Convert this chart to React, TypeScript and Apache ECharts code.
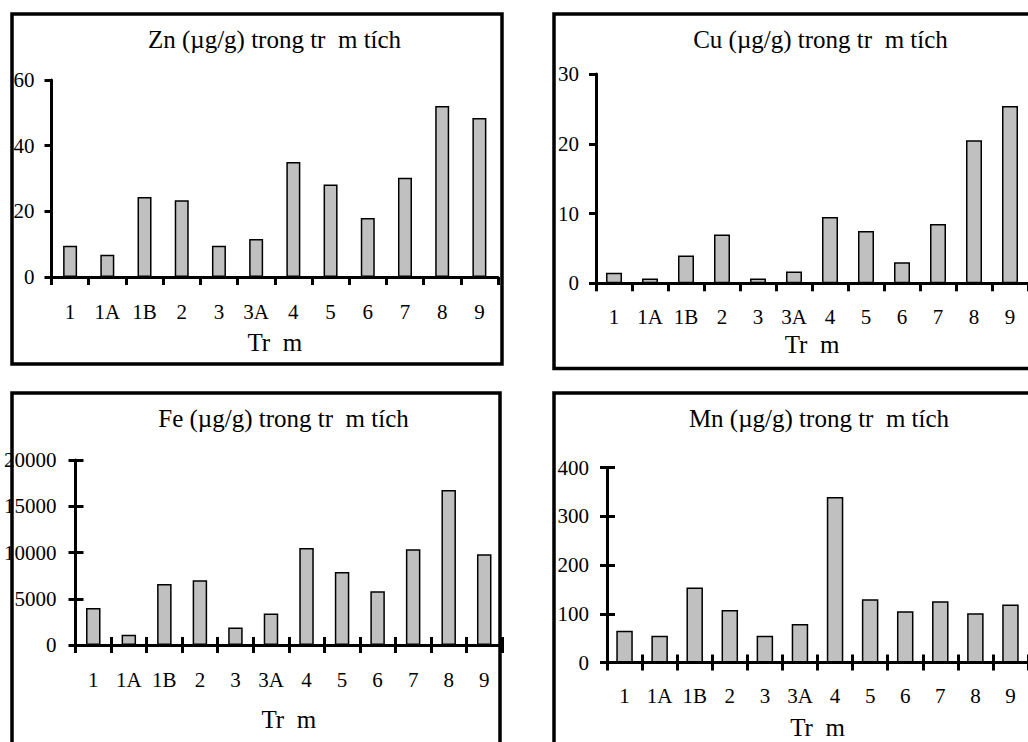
import React, { useEffect, useRef } from 'react';
import * as echarts from 'echarts';

const categories = ['1', '1A', '1B', '2', '3', '3A', '4', '5', '6', '7', '8', '9'];
const znValues = [9.5, 6.8, 24.4, 23.4, 9.5, 11.6, 35.0, 28.2, 18.0, 30.2, 52.1, 48.4];
const cuValues = [1.5, 0.7, 4.0, 7.0, 0.7, 1.7, 9.5, 7.5, 3.0, 8.5, 20.5, 25.4];
const feValues = [4000, 1100, 6600, 7000, 1900, 3400, 10500, 7900, 5800, 10350, 16750, 9800];
const mnValues = [65, 55, 154, 108, 55, 79, 340, 130, 105, 126, 101, 119];

const znTicks = [0, 20, 40, 60];
const cuTicks = [0, 10, 20, 30];
const feTicks = [0, 5000, 10000, 15000, 20000];
const mnTicks = [0, 100, 200, 300, 400];

const titles = [
  'Zn (µg/g) trong tr  m tích',
  'Cu (µg/g) trong tr  m tích',
  'Fe (µg/g) trong tr  m tích',
  'Mn (µg/g) trong tr  m tích',
];
const xName = 'Tr  m';

const FONT = '"Liberation Serif", "Times New Roman", serif';

const panels = [
  {
    values: znValues, ticks: znTicks, title: titles[0],
    grid: { left: 51.5, top: 80, width: 446.5, height: 197 },
    barWidth: 14, tx: 274.5, ty: 39.5, labelMargin: 24, nameGap: 53, yMargin: 17, cross: false,
    frame: { x: 12, y: 14, width: 490, height: 350 },
  },
  {
    values: cuValues, ticks: cuTicks, title: titles[1],
    grid: { left: 596, top: 74, width: 440, height: 209.3 },
    barWidth: 16, tx: 820.5, ty: 39.5, labelMargin: 23, nameGap: 49, yMargin: 17, cross: false,
    frame: { x: 554, y: 14, width: 520, height: 354.5 },
  },
  {
    values: feValues, ticks: feTicks, title: titles[2],
    grid: { left: 75.5, top: 460, width: 426.5, height: 185 },
    barWidth: 14.5, tx: 283.5, ty: 418.3, labelMargin: 24, nameGap: 62, yMargin: 19, cross: true,
    frame: { x: 12, y: 393, width: 488, height: 420 },
  },
  {
    values: mnValues, ticks: mnTicks, title: titles[3],
    grid: { left: 607, top: 467.7, width: 436.6, height: 194.8 },
    barWidth: 16.5, tx: 819, ty: 418.3, labelMargin: 23, nameGap: 52, yMargin: 18, cross: true,
    frame: { x: 554, y: 393, width: 520, height: 420 },
  },
];

const lineStyle = { color: '#000', width: 3 };

export default function App() {
  const ref = useRef<HTMLDivElement>(null);

  useEffect(() => {
    if (!ref.current) return;
    const chart = echarts.init(ref.current, undefined, { renderer: 'svg' });

    const grids: any[] = [];
    const xAxes: any[] = [];
    const yAxes: any[] = [];
    const series: any[] = [];
    const graphics: any[] = [];

    panels.forEach((p, i) => {
      grids.push({ ...p.grid });
      const interval = p.ticks[1] - p.ticks[0];
      const min = p.ticks[0];
      const max = p.ticks[p.ticks.length - 1];
      xAxes.push({
        type: 'category', gridIndex: i, data: categories, position: 'bottom',
        boundaryGap: true,
        axisLine: { show: true, lineStyle },
        axisTick: { show: true, inside: false, length: 8, alignWithLabel: false, lineStyle },
        axisLabel: { color: '#000', fontFamily: FONT, fontSize: 21, margin: p.labelMargin, interval: 0 },
        name: xName, nameLocation: 'middle', nameGap: p.nameGap,
        nameTextStyle: { color: '#000', fontFamily: FONT, fontSize: 25 },
        splitLine: { show: false },
      });
      yAxes.push({
        type: 'value', gridIndex: i, min, max, interval, position: 'left',
        axisLine: { show: true, lineStyle },
        axisTick: { show: true, inside: false, length: 7, lineStyle },
        axisLabel: {
          color: '#000', fontFamily: FONT, fontSize: 21, margin: p.yMargin,
          formatter: (v: number) => String(v),
        },
        splitLine: { show: false },
      });
      series.push({
        type: 'bar', xAxisIndex: i, yAxisIndex: i, data: p.values,
        barWidth: p.barWidth,
        itemStyle: { color: '#c0c0c0', borderColor: '#000', borderWidth: 1.5 },
        silent: true,
      });
      graphics.push({
        type: 'text', x: p.tx, y: p.ty, z: 50,
        style: {
          text: p.title, fill: '#000', font: `25px ${FONT}`,
          textAlign: 'center', textVerticalAlign: 'middle',
        },
      });
      graphics.push({
        type: 'rect', z: 100,
        shape: { ...p.frame },
        style: { fill: 'none', stroke: '#000', lineWidth: 3.5 },
      });
    });

    // duplicate axes for crossing ticks (Fe, Mn)
    panels.forEach((p, i) => {
      if (!p.cross) return;
      const interval = p.ticks[1] - p.ticks[0];
      xAxes.push({
        type: 'category', gridIndex: i, data: categories, position: 'bottom',
        boundaryGap: true,
        axisLine: { show: false },
        axisTick: { show: true, inside: true, length: 8, lineStyle },
        axisLabel: { show: false },
        splitLine: { show: false },
      });
      yAxes.push({
        type: 'value', gridIndex: i, min: p.ticks[0], max: p.ticks[p.ticks.length - 1], interval,
        position: 'left',
        axisLine: { show: false },
        axisTick: { show: true, inside: true, length: 8, lineStyle },
        axisLabel: { show: false },
        splitLine: { show: false },
      });
    });

    chart.setOption({
      animation: false,
      backgroundColor: '#fff',
      grid: grids,
      xAxis: xAxes,
      yAxis: yAxes,
      series,
      graphic: graphics,
    });

    return () => chart.dispose();
  }, []);

  return (
    <div
      ref={ref}
      style={{ position: 'absolute', left: 0, top: 0, width: 1028, height: 742, background: '#fff' }}
    />
  );
}
